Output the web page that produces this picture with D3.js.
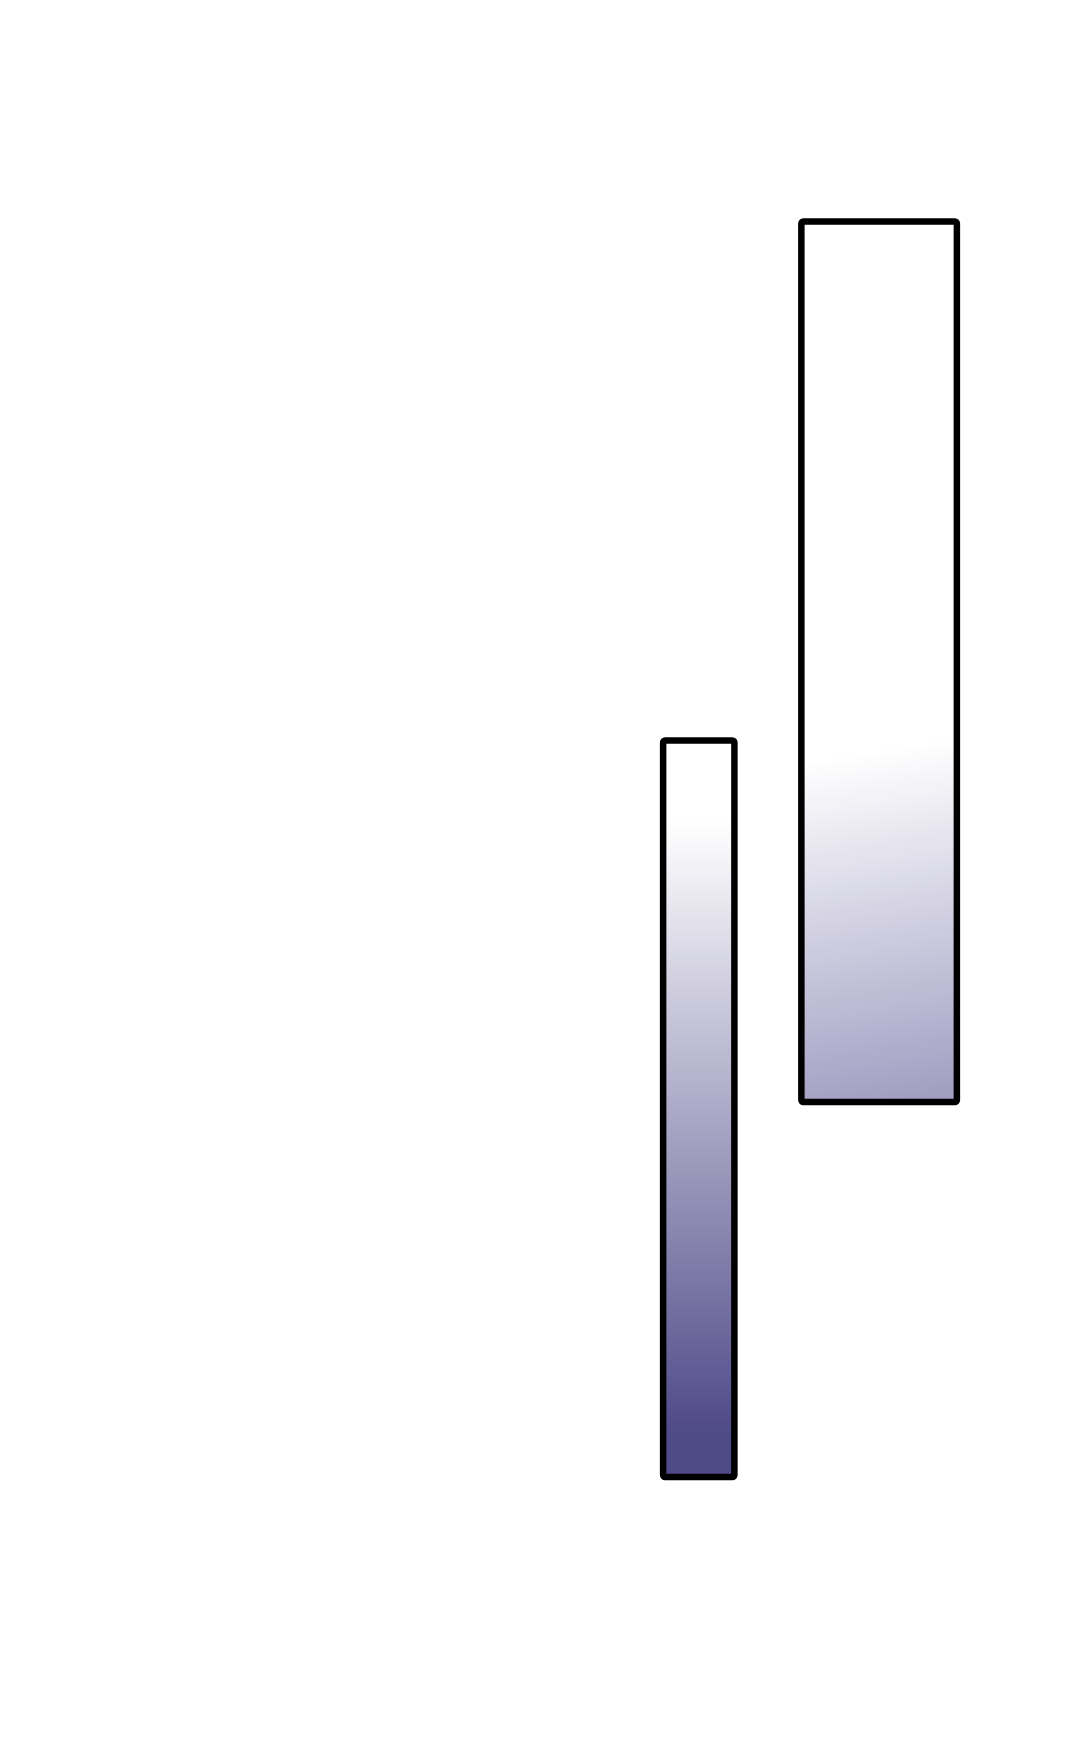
<!DOCTYPE html>
<html>
<head>
<meta charset="utf-8">
<script src="https://cdn.jsdelivr.net/npm/d3@7"></script>
<style>
  html, body { margin: 0; padding: 0; background: #fff; }
  svg { display: block; }
</style>
</head>
<body>
<svg id="chart"></svg>
<script>
// two floating bars: horizontal span and vertical span in chart units
const names = ['A', 'B'];
const xStart = [61.4, 74.2];
const xEnd = [68.0, 88.6];
const lows = [8.2, 33.2];
const highs = [57.3, 91.9];
// gradient stops per bar: [offset, colour]
const fills = [
  [[0, '#ffffff'], [0.11, '#ffffff'], [0.94, '#4f4a88'], [1, '#4f4a88']],
  [[0, '#ffffff'], [0.6, '#ffffff'], [1, '#a29fc3']]
];

const width = 1080, height = 1743;

const x = d3.scaleLinear().domain([0, 100]).range([0, width]);
const y = d3.scaleLinear().domain([0, 100]).range([1600, 100]);

const data = names.map((n, i) => ({
  name: n, x0: xStart[i], x1: xEnd[i], lo: lows[i], hi: highs[i], stops: fills[i]
}));

const svg = d3.select('#chart')
  .attr('width', width)
  .attr('height', height);

svg.append('rect')
  .attr('width', width)
  .attr('height', height)
  .attr('fill', '#ffffff');

const defs = svg.append('defs');
data.forEach((d, i) => {
  // the wide bar's fade is a little tilted, higher on the right
  const tilt = i === 1 ? 0.015 : 0;
  const g = defs.append('linearGradient')
    .attr('id', `grad${i}`)
    .attr('x1', 0.5 - tilt).attr('y1', 0)
    .attr('x2', 0.5 + tilt).attr('y2', 1);
  g.selectAll('stop')
    .data(d.stops)
    .join('stop')
    .attr('offset', s => s[0])
    .attr('stop-color', s => s[1]);
});

svg.append('g')
  .selectAll('rect')
  .data(data)
  .join('rect')
  .attr('x', d => x(d.x0))
  .attr('y', d => y(d.hi))
  .attr('width', d => x(d.x1) - x(d.x0))
  .attr('height', d => y(d.lo) - y(d.hi))
  .attr('rx', 2)
  .attr('fill', (d, i) => `url(#grad${i})`)
  .attr('stroke', '#000')
  .attr('stroke-width', 6.5)
  .attr('stroke-linejoin', 'round');
</script>
</body>
</html>
